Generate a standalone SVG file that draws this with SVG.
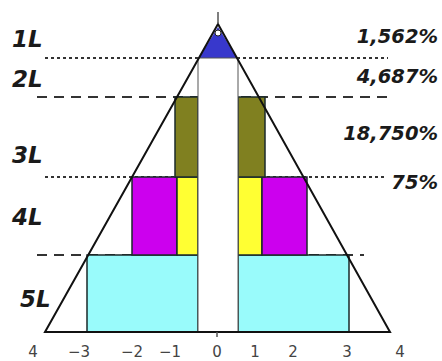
<svg xmlns="http://www.w3.org/2000/svg" width="442" height="361" viewBox="0 0 442 361">
<style>
.lbl{font-family:"DejaVu Sans",Verdana,sans-serif;font-weight:bold;font-style:italic;fill:#1a1a1a}
.lv{font-size:23px}
.pc{font-size:19.5px;text-anchor:end}
.ax{font-family:"DejaVu Sans",sans-serif;font-size:15px;fill:#444;text-anchor:middle}
.dot{stroke:#333;stroke-width:2;stroke-dasharray:3 3;fill:none}
.dash{stroke:#333;stroke-width:2;stroke-dasharray:10 7;fill:none}
.blk{stroke:#1a2a2a;stroke-width:1.5}
</style>
<rect width="442" height="361" fill="#fff"/>
<g id="guides">
<line class="dot" x1="45" y1="58" x2="388" y2="58"/>
<line class="dash" x1="37" y1="97" x2="390" y2="97"/>
<line class="dot" x1="45" y1="177" x2="386" y2="177"/>
<line class="dash" x1="37" y1="255" x2="364" y2="255"/>
</g>
<g id="level5">
<rect class="blk" x="87" y="255" width="111" height="77" fill="#99fbfb"/>
<rect class="blk" x="238" y="255" width="111" height="77" fill="#99fbfb"/>
</g>
<g id="level4">
<rect class="blk" x="132" y="177" width="45" height="78" fill="#cc00ee"/>
<rect class="blk" x="177" y="177" width="21" height="78" fill="#ffff33"/>
<rect class="blk" x="238" y="177" width="24" height="78" fill="#ffff33"/>
<rect class="blk" x="262" y="177" width="45" height="78" fill="#cc00ee"/>
</g>
<g id="level3">
<rect class="blk" x="175" y="97" width="23" height="80" fill="#808020"/>
<rect class="blk" x="238" y="97" width="27" height="80" fill="#808020"/>
</g>
<g id="level1">
<polygon points="218,27 199,58 237,58" fill="#3838cc"/>
<circle cx="218" cy="33" r="3" fill="#fff" stroke="#222" stroke-width="1"/>
</g>
<g id="center">
<rect x="198" y="58" width="40" height="274" fill="#fff" stroke="#555" stroke-width="1"/>
</g>
<g id="triangle">
<polygon points="218,24 45,332 390,332" fill="none" stroke="#111" stroke-width="2"/>
<line x1="218" y1="12" x2="218" y2="24" stroke="#555" stroke-width="1.5"/>
<line x1="217" y1="332" x2="217" y2="337" stroke="#555" stroke-width="1.5"/>
</g>
<g id="labels">
<text class="lbl lv" x="12" y="47">1L</text>
<text class="lbl lv" x="12" y="87">2L</text>
<text class="lbl lv" x="12" y="163">3L</text>
<text class="lbl lv" x="12" y="225">4L</text>
<text class="lbl lv" x="20" y="307">5L</text>
<text class="lbl pc" x="438" y="43">1,562%</text>
<text class="lbl pc" x="438" y="83">4,687%</text>
<text class="lbl pc" x="438" y="140">18,750%</text>
<text class="lbl pc" x="438" y="189">75%</text>
</g>
<g id="axis">
<text class="ax" x="33" y="357">4</text>
<text class="ax" x="79" y="357">−3</text>
<text class="ax" x="132" y="357">−2</text>
<text class="ax" x="170" y="357">−1</text>
<text class="ax" x="217" y="357">0</text>
<text class="ax" x="255" y="357">1</text>
<text class="ax" x="293" y="357">2</text>
<text class="ax" x="347" y="357">3</text>
<text class="ax" x="400" y="357">4</text>
</g>
</svg>
